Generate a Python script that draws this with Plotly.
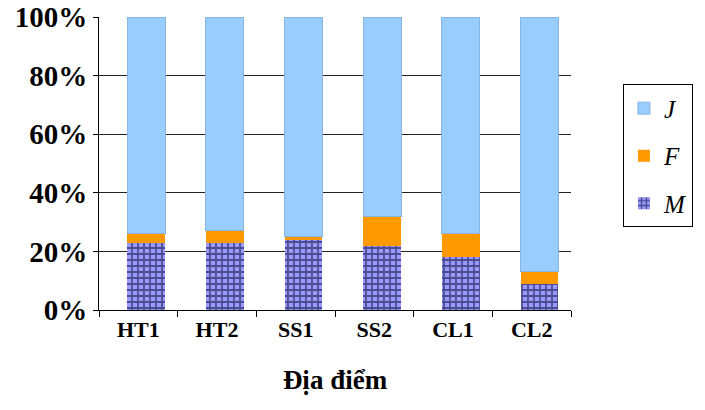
import plotly.graph_objects as go

categories = ["HT1", "HT2", "SS1", "SS2", "CL1", "CL2"]
M_values = [23, 23, 24, 22, 18, 9]
F_values = [3, 4, 1, 10, 8, 4]
J_values = [74, 73, 75, 68, 74, 87]
y_ticks = [0, 20, 40, 60, 80, 100]
y_tick_labels = ["0%", "20%", "40%", "60%", "80%", "100%"]

serif = "Liberation Serif, Times New Roman, serif"
bar_w = 0.48
bar_off = -0.14

fig = go.Figure()
fig.add_trace(go.Bar(
    x=categories, y=M_values, name="M", legendgroup="M", legendrank=3,
    width=bar_w, offset=bar_off,
    marker=dict(color="#9999FF",
                pattern=dict(shape="+", fgcolor="#000022", bgcolor="#9999FF",
                             size=6, solidity=0.5),
                line=dict(width=0)),
))
fig.add_trace(go.Bar(
    x=categories, y=F_values, name="F", legendgroup="F", legendrank=2,
    width=bar_w, offset=bar_off,
    marker=dict(color="#FF9900", line=dict(width=0)),
))
fig.add_trace(go.Bar(
    x=categories, y=J_values, name="J", legendgroup="J", legendrank=1,
    width=bar_w, offset=bar_off,
    marker=dict(color="#99CCFF", line=dict(color="#88B4E0", width=1)),
))

fig.update_layout(
    width=705, height=410,
    margin=dict(l=99, r=129, t=17, b=100),
    barmode="stack",
    plot_bgcolor="white",
    paper_bgcolor="white",
    showlegend=True,
    legend=dict(
        traceorder="grouped",
        x=1.11, y=0.77, xanchor="left", yanchor="top",
        bordercolor="black", borderwidth=1,
        font=dict(family=serif, size=25, color="black", style="italic"),
        tracegroupgap=12,
        itemwidth=30,
    ),
    xaxis=dict(
        automargin=False,
        title=dict(text="<b>Địa điểm</b>", font=dict(family=serif, size=27, color="black"), standoff=28),
        tickfont=dict(family=serif, size=22, color="black", weight="bold"),
        showline=True, linecolor="black", linewidth=1,
        ticks="outside", tickson="boundaries", ticklen=6, tickcolor="black",
        showgrid=False,
    ),
    yaxis=dict(
        automargin=False,
        range=[0, 100],
        tickvals=y_ticks, ticktext=y_tick_labels,
        tickfont=dict(family=serif, size=29, color="black", weight="bold"),
        showline=True, linecolor="black", linewidth=1,
        ticks="outside", ticklen=5, tickcolor="black",
        showgrid=True, gridcolor="#222222", gridwidth=1,
        zeroline=False,
    ),
)

fig.write_html("out.html", config={"displayModeBar": False},
               post_script="document.body.style.margin='0';document.body.style.overflow='hidden';")
